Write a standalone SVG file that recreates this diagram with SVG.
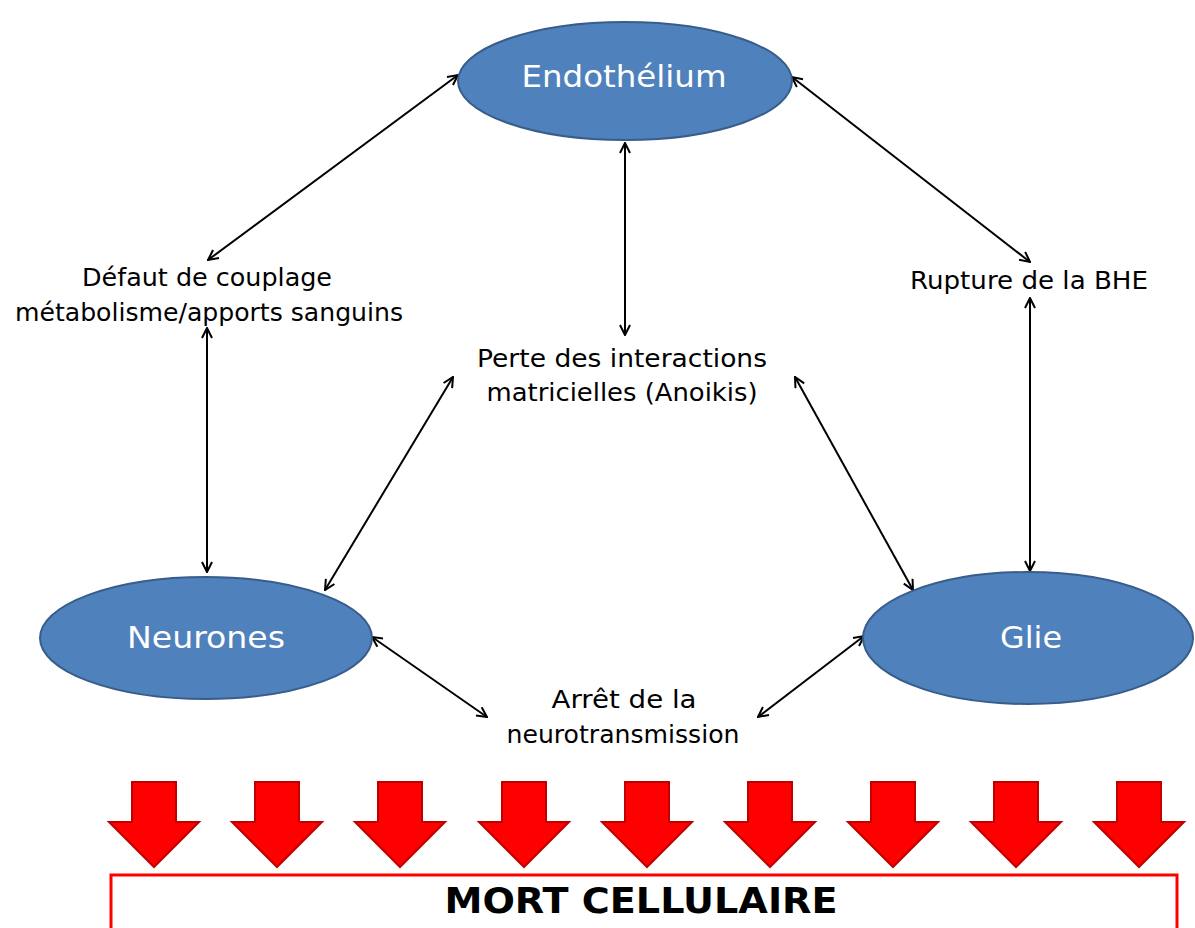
<svg xmlns="http://www.w3.org/2000/svg" width="1195" height="928" viewBox="0 0 1195 928">
<style>
.node ellipse{fill:#4F81BD;stroke:#385D8A;stroke-width:2}
.nt{font-family:"DejaVu Sans","Liberation Sans",sans-serif;font-size:31px;fill:#fff;text-anchor:middle}
.lb{font-family:"DejaVu Sans","Liberation Sans",sans-serif;font-size:24px;fill:#000;text-anchor:middle}
.conn line{stroke:#000;stroke-width:2;marker-start:url(#ah);marker-end:url(#ah)}
.red{fill:#FF0000;stroke:#C00000;stroke-width:2;stroke-linejoin:miter}
</style>
<defs>
<marker id="ah" viewBox="0 0 12 12" refX="11" refY="6" markerWidth="12" markerHeight="12" markerUnits="userSpaceOnUse" orient="auto-start-reverse">
<path d="M1,1 L11,6 L1,11" fill="none" stroke="#000" stroke-width="2"/>
</marker>
</defs>
<rect width="1195" height="928" fill="#fff"/>
<g id="connectors" class="conn">
<line x1="458" y1="75" x2="208" y2="260"/>
<line x1="625" y1="143" x2="625" y2="335"/>
<line x1="792" y1="77" x2="1030" y2="262"/>
<line x1="207" y1="328" x2="207" y2="572"/>
<line x1="1030" y1="298" x2="1030" y2="571"/>
<line x1="453" y1="377" x2="325" y2="590"/>
<line x1="795" y1="377" x2="913" y2="590"/>
<line x1="372" y1="637" x2="487" y2="717"/>
<line x1="758" y1="717" x2="864" y2="636"/>
</g>
<g id="endothelium" class="node">
<ellipse cx="625" cy="81" rx="167" ry="59"/>
<text class="nt" x="624" y="87" textLength="205" lengthAdjust="spacingAndGlyphs">Endothélium</text>
</g>
<g id="neurones" class="node">
<ellipse cx="206" cy="638" rx="166" ry="61"/>
<text class="nt" x="206" y="648" textLength="158" lengthAdjust="spacingAndGlyphs">Neurones</text>
</g>
<g id="glie" class="node">
<ellipse cx="1028" cy="638" rx="165" ry="66"/>
<text class="nt" x="1031" y="648" textLength="62" lengthAdjust="spacingAndGlyphs">Glie</text>
</g>
<g id="defaut">
<text class="lb" x="207" y="286" textLength="250" lengthAdjust="spacingAndGlyphs">Défaut de couplage</text>
<text class="lb" x="209" y="321" textLength="388" lengthAdjust="spacingAndGlyphs">métabolisme/apports sanguins</text>
</g>
<g id="rupture">
<text class="lb" x="1029" y="289" textLength="238" lengthAdjust="spacingAndGlyphs">Rupture de la BHE</text>
</g>
<g id="perte">
<text class="lb" x="622" y="367" textLength="290" lengthAdjust="spacingAndGlyphs">Perte des interactions</text>
<text class="lb" x="622" y="401" textLength="271" lengthAdjust="spacingAndGlyphs">matricielles (Anoikis)</text>
</g>
<g id="arret">
<text class="lb" x="624" y="708" textLength="145" lengthAdjust="spacingAndGlyphs">Arrêt de la</text>
<text class="lb" x="623" y="743" textLength="233" lengthAdjust="spacingAndGlyphs">neurotransmission</text>
</g>
<g id="red-arrows">
<path class="red" d="M132,782 H176 V822 H199 L154,867 L109,822 H132 Z"/>
<path class="red" d="M255,782 H299 V822 H322 L277,867 L232,822 H255 Z"/>
<path class="red" d="M378,782 H422 V822 H445 L400,867 L355,822 H378 Z"/>
<path class="red" d="M502,782 H546 V822 H569 L524,867 L479,822 H502 Z"/>
<path class="red" d="M625,782 H669 V822 H692 L647,867 L602,822 H625 Z"/>
<path class="red" d="M748,782 H792 V822 H815 L770,867 L725,822 H748 Z"/>
<path class="red" d="M871,782 H915 V822 H938 L893,867 L848,822 H871 Z"/>
<path class="red" d="M994,782 H1038 V822 H1061 L1016,867 L971,822 H994 Z"/>
<path class="red" d="M1117,782 H1161 V822 H1184 L1139,867 L1094,822 H1117 Z"/>
</g>
<g id="mort">
<rect x="111" y="875" width="1066" height="70" fill="#fff" stroke="#FF0000" stroke-width="3"/>
<text x="641" y="913" font-family="DejaVu Sans, Liberation Sans, sans-serif" font-size="35" font-weight="bold" text-anchor="middle" textLength="393" lengthAdjust="spacingAndGlyphs">MORT CELLULAIRE</text>
</g>
</svg>
